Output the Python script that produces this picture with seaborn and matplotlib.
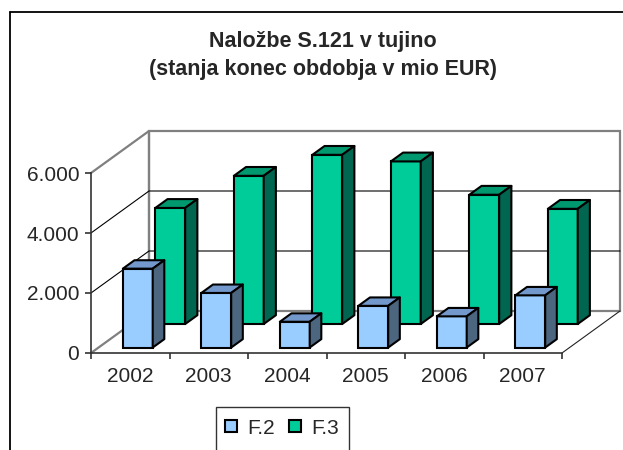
import matplotlib
matplotlib.use('Agg')
import matplotlib.pyplot as plt
import matplotlib.transforms as mtransforms
from matplotlib.patches import Polygon, Rectangle
from matplotlib.lines import Line2D
import seaborn as sns
import numpy as np

# Data (mio EUR)
years = ['2002', '2003', '2004', '2005', '2006', '2007']
f2 = [2630, 1820, 860, 1390, 1040, 1740]
f3 = [3870, 4940, 5640, 5420, 4310, 3840]
y_ticks = [0, 2000, 4000, 6000]
y_tick_labels = ['0', '2.000', '4.000', '6.000']
series_names = ['F.2', 'F.3']

# Colours: front, top, side
F2_COLS = ('#99CCFF', '#7399CC', '#4D6680')
F3_COLS = ('#00CC99', '#00996F', '#006650')

# Oblique "3D" look: full floor depth expressed in data units
DX = 0.739
DY = 1400
BAR_W = 0.38
ROWS = {'F.2': (0.13, 0.33), 'F.3': (0.69, 0.90)}  # depth start/end of each row

sns.set_style('white')
plt.rcParams['font.family'] = ['Liberation Sans', 'DejaVu Sans']

W, H = 623, 450
fig = plt.figure(figsize=(W / 100, H / 100), dpi=100)
ax = fig.add_axes([0, 0, 1, 1])

# pixel layout of the front plane
PX_X = 78.5     # px per category
PX_Y = 0.03     # px per unit
X0_PX, Y0_PX = 91, 353

x0, x1 = -0.5, len(years) - 0.5
ymax = y_ticks[-1]
GRAY = '#808080'

# walls and floor
wall = [(x0 + DX, DY), (x1 + DX, DY), (x1 + DX, ymax + DY), (x0 + DX, ymax + DY)]
ax.add_patch(Polygon(wall, closed=True, fill=False, ec=GRAY, lw=1.6, zorder=0.5))
ax.plot([x0, x0 + DX], [ymax, ymax + DY], color=GRAY, lw=1.6, zorder=0.5)
ax.plot([x0, x0 + DX], [0, DY], color=GRAY, lw=1.6, zorder=0.5)
ax.plot([x0 + DX, x0 + DX], [DY, ymax + DY], color=GRAY, lw=1.6, zorder=0.5)
ax.plot([x1, x1 + DX], [0, DY], color='#222222', lw=0.8, zorder=0.5)
for v in y_ticks[1:-1]:
    ax.plot([x0, x0 + DX, x1 + DX], [v, v + DY, v + DY], color='black', lw=0.8, zorder=0.6)

# bars: back row first, then front row
for name, vals, cols, z in [('F.3', f3, F3_COLS, 2), ('F.2', f2, F2_COLS, 3)]:
    d0, d1 = ROWS[name]
    trans = mtransforms.Affine2D().translate(d0 * DX, d0 * DY) + ax.transData
    sns.barplot(x=years, y=vals, color=cols[0], saturation=1, width=BAR_W,
                errorbar=None, edgecolor='black', linewidth=1.5,
                transform=trans, zorder=z, ax=ax)
    for i, v in enumerate(vals):
        xl, xr = i - BAR_W / 2, i + BAR_W / 2
        top = [(xl + d0 * DX, v + d0 * DY), (xr + d0 * DX, v + d0 * DY),
               (xr + d1 * DX, v + d1 * DY), (xl + d1 * DX, v + d1 * DY)]
        side = [(xr + d0 * DX, d0 * DY), (xr + d1 * DX, d1 * DY),
                (xr + d1 * DX, v + d1 * DY), (xr + d0 * DX, v + d0 * DY)]
        ax.add_patch(Polygon(top, closed=True, fc=cols[1], ec='black', lw=1.5,
                             joinstyle='round', zorder=z))
        ax.add_patch(Polygon(side, closed=True, fc=cols[2], ec='black', lw=1.5,
                             joinstyle='round', zorder=z))

ax.set_xlim(x0 - X0_PX / PX_X, x0 + (W - X0_PX) / PX_X)
ax.set_ylim(-(H - Y0_PX) / PX_Y, Y0_PX / PX_Y)

# front axes
for s in ['top', 'right']:
    ax.spines[s].set_visible(False)
ax.spines['left'].set_position(('data', x0))
ax.spines['left'].set_bounds(0, ymax)
ax.spines['bottom'].set_position(('data', 0))
ax.spines['bottom'].set_bounds(x0, x1)
for s in ['left', 'bottom']:
    ax.spines[s].set_color('#333333')
    ax.spines[s].set_linewidth(1.2)
    ax.spines[s].set_zorder(4)

ax.set_yticks(y_ticks, y_tick_labels)
ax.set_xticks(np.arange(len(years) + 1) - 0.5, [''] * (len(years) + 1))
ax.set_xticks(np.arange(len(years)), years, minor=True)
ax.tick_params(axis='y', left=True, direction='out', length=4, width=1.2,
               pad=4.5, labelsize=15, color='#333333')
ax.tick_params(axis='x', which='major', bottom=True, direction='out', length=4.5,
               width=1.2, color='#333333')
ax.tick_params(axis='x', which='minor', bottom=True, length=0, pad=10, labelsize=15)
ax.set_xlabel('')
ax.set_ylabel('')

# title
fig.text(323 / W, 1 - 42 / H, 'Naložbe S.121 v tujino', ha='center', va='center',
         fontsize=15.5, fontweight='bold')
fig.text(323 / W, 1 - 70 / H, '(stanja konec obdobja v mio EUR)', ha='center',
         va='center', fontsize=15.5, fontweight='bold')

# outer chart frame
fig.add_artist(Line2D([10 / W, 10 / W], [0, 1 - 12 / H], color='black', lw=1.3,
                      transform=fig.transFigure))
fig.add_artist(Line2D([10 / W, 1], [1 - 12 / H, 1 - 12 / H], color='black', lw=1.3,
                      transform=fig.transFigure))

# legend
fig.add_artist(Rectangle((216 / W, (H - 456) / H), 133 / W, 49 / H, fill=False,
                         ec='#333333', lw=1, transform=fig.transFigure))
handles = [Line2D([], [], marker='s', ls='none', markersize=9, markerfacecolor=c[0],
                  markeredgecolor='black', markeredgewidth=1.5)
           for c in (F2_COLS, F3_COLS)]
fig.legend(handles, series_names, loc='center left',
           bbox_to_anchor=(223 / W, 1 - 428 / H), ncol=2, frameon=False,
           fontsize=15, handlelength=0.8, handletextpad=0.35, columnspacing=0.6,
           borderpad=0, borderaxespad=0)

fig.savefig('out.png', dpi=100)
